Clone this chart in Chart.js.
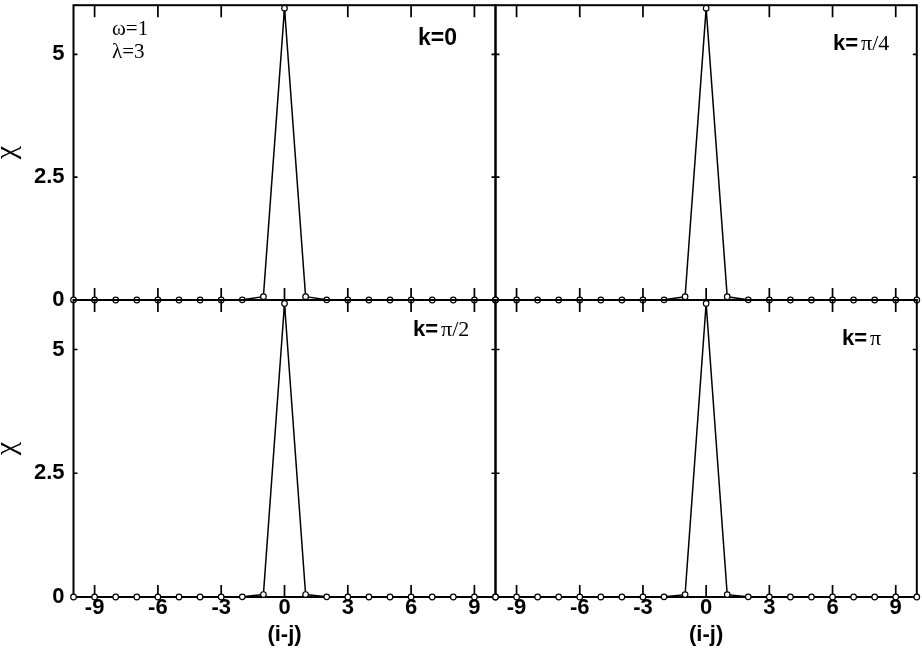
<!DOCTYPE html>
<html><head><meta charset="utf-8">
<script src="https://cdn.jsdelivr.net/npm/chart.js@4.4.1/dist/chart.umd.min.js"></script>
<style>
html,body{margin:0;padding:0;background:#fff;}
#wrap{position:relative;width:922px;height:657px;overflow:hidden;}
#wrap canvas{position:absolute;left:0;top:0;}
</style></head><body>
<div id="wrap">
<canvas id="c0" width="922" height="657"></canvas>
<canvas id="c1" width="922" height="657"></canvas>
<canvas id="c2" width="922" height="657"></canvas>
<canvas id="c3" width="922" height="657"></canvas>
</div>
<script>
// ---- data ----
const sites = [-10,-9,-8,-7,-6,-5,-4,-3,-2,-1,0,1,2,3,4,5,6,7,8,9,10];
const chiK0   = [0,0,0,0,0,0,0,0,0.003,0.068,5.94,0.068,0.003,0,0,0,0,0,0,0,0];
const chiKpi4 = [0,0,0,0,0,0,0,0,0.003,0.066,5.94,0.066,0.003,0,0,0,0,0,0,0,0];
const chiKpi2 = [0,0,0,0,0,0,0,0,0.003,0.05,5.93,0.05,0.003,0,0,0,0,0,0,0,0];
const chiKpi  = [0,0,0,0,0,0,0,0,0.003,0.048,5.93,0.048,0.003,0,0,0,0,0,0,0,0];
const xTickValues = [-9,-6,-3,0,3,6,9];
const yTickValues = [0,2.5,5];
const panelLabels = ['k=0','k=π/4','k=π/2','k=π'];
const paramLabels = ['ω=1','λ=3'];
const xTitle = '(i-j)';
const yTitle = 'χ';

const SANS = '"Liberation Sans", Arial, Helvetica, sans-serif';
const SERIF = '"Liberation Serif", "Times New Roman", serif';

function frameTicksPlugin() {
  return {
    id: 'frameTicks',
    beforeDatasetsDraw(chart) {
      const {ctx, chartArea: a, scales: {x, y}} = chart;
      ctx.save();
      ctx.strokeStyle = '#000';
      ctx.lineWidth = 1.7;
      ctx.beginPath();
      for (const t of x.ticks) {
        if (!xTickValues.includes(t.value)) continue;
        const px = x.getPixelForValue(t.value);
        ctx.moveTo(px, a.bottom); ctx.lineTo(px, a.bottom - 12);
        ctx.moveTo(px, a.top); ctx.lineTo(px, a.top + 12);
      }
      for (const t of y.ticks) {
        const py = y.getPixelForValue(t.value);
        const len = yTickValues.includes(t.value) ? 4 : 8;
        ctx.moveTo(a.left, py); ctx.lineTo(a.left + len, py);
        ctx.moveTo(a.right, py); ctx.lineTo(a.right - len, py);
      }
      ctx.stroke();
      ctx.lineWidth = 2;
      ctx.strokeRect(a.left, a.top, a.right - a.left, a.bottom - a.top);
      ctx.restore();
    }
  };
}

function annotPlugin(items) {
  return {
    id: 'annot',
    afterDraw(chart) {
      const ctx = chart.ctx;
      ctx.save();
      ctx.fillStyle = '#000';
      ctx.textBaseline = 'alphabetic';
      ctx.textAlign = 'left';
      for (const it of items) {
        let cx = it.x;
        for (const r of it.runs) {
          cx += r.gap || 0;
          ctx.font = r.font;
          ctx.fillText(r.t, cx, it.y);
          cx += ctx.measureText(r.t).width;
        }
      }
      ctx.restore();
    }
  };
}

function kLabel(str, size, x, y) {
  const head = 'k=';
  const rest = str.slice(head.length);
  const isNum = /^[0-9]+$/.test(rest);
  if (isNum) return {x, y, runs: [{t: str, font: 'bold ' + size + 'px ' + SANS}]};
  return {x, y, runs: [
    {t: head, font: 'bold ' + size + 'px ' + SANS},
    {t: rest, font: size + 'px ' + SERIF, gap: 3}
  ]};
}

function zeroPad(s) {
  s.paddingLeft = 0; s.paddingRight = 0; s.paddingTop = 0; s.paddingBottom = 0;
}

function makeChart(id, values, box, showX, showY, items) {
  const yW = showY ? 72 : 0;
  const xH = showX ? 51 : 0;
  const points = values.map((v, i) => ({x: sites[i], y: v}));
  return new Chart(document.getElementById(id), {
    type: 'line',
    data: { datasets: [{
      data: points,
      borderColor: '#000',
      borderWidth: 1.5,
      pointRadius: 2.8,
      pointBorderWidth: 1.2,
      pointBorderColor: '#000',
      pointBackgroundColor: '#fff',
      tension: 0,
      fill: false,
      clip: false
    }]},
    options: {
      responsive: false,
      animation: false,
      devicePixelRatio: 1,
      events: [],
      layout: { padding: {
        left: box.l - yW, top: box.t, right: 922 - box.r, bottom: 657 - box.b - xH
      }},
      plugins: { legend: {display: false}, tooltip: {enabled: false} },
      scales: {
        x: {
          type: 'linear', min: -10, max: 10,
          ticks: {
            stepSize: 1, autoSkip: false, maxRotation: 0, minRotation: 0,
            display: showX, padding: 0, color: '#000',
            font: {family: SANS, weight: 'bold', size: 22, lineHeight: 1},
            callback: v => xTickValues.includes(v) ? String(v) : null
          },
          grid: {display: false, drawTicks: false},
          border: {display: false},
          title: {
            display: showX, text: xTitle, color: '#000',
            font: {family: SANS, weight: 'bold', size: 22, lineHeight: 1.2},
            padding: {top: 0, bottom: 0}
          },
          afterFit: s => { s.height = xH; zeroPad(s); }
        },
        y: {
          type: 'linear', min: 0, max: 6,
          ticks: {
            stepSize: 0.5, autoSkip: false,
            display: showY, padding: 9, color: '#000',
            font: {family: SANS, weight: 'bold', size: 22, lineHeight: 1},
            callback: v => yTickValues.includes(v) ? String(v) : null
          },
          grid: {display: false, drawTicks: false},
          border: {display: false},
          title: {
            display: showY, text: yTitle, color: '#000',
            font: {family: SERIF, size: 30, lineHeight: 0.4},
            padding: 0
          },
          afterFit: s => { s.width = yW; zeroPad(s); }
        }
      }
    },
    plugins: [frameTicksPlugin(), annotPlugin(items)]
  });
}

const L = 73.5, M = 495.5, R = 917.5, T = 3, H = 300, B = 597;

makeChart('c0', chiK0, {l: L, t: T, r: M, b: H}, false, true, [
  {x: 112, y: 35, runs: [{t: paramLabels[0], font: '21px ' + SERIF}]},
  {x: 112, y: 58, runs: [{t: paramLabels[1], font: '21px ' + SERIF}]},
  kLabel(panelLabels[0], 23, 418, 45)
]);
makeChart('c1', chiKpi4, {l: M, t: T, r: R, b: H}, false, false, [
  kLabel(panelLabels[1], 22, 833, 50)
]);
makeChart('c2', chiKpi2, {l: L, t: H, r: M, b: B}, true, true, [
  kLabel(panelLabels[2], 22, 413, 336)
]);
makeChart('c3', chiKpi, {l: M, t: H, r: R, b: B}, true, false, [
  kLabel(panelLabels[3], 22, 842, 345)
]);
</script>
</body></html>
